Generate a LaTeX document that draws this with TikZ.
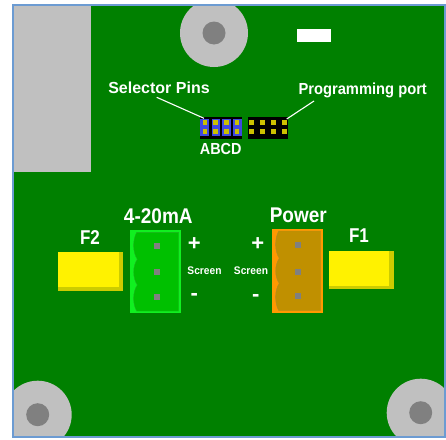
\documentclass[tikz,border=0pt]{standalone}
\usepackage{fontspec}
\setmainfont{Liberation Sans}
\usepackage{xcolor}
\definecolor{Board}{RGB}{0,128,0}
\definecolor{Pale}{RGB}{192,192,192}
\definecolor{Hole}{RGB}{128,128,128}
\definecolor{Frame}{RGB}{108,155,210}
\definecolor{Blue}{RGB}{64,72,224}
\definecolor{Pin}{RGB}{204,192,0}
\definecolor{Olive}{RGB}{204,204,0}
\definecolor{Lime}{RGB}{16,240,32}
\definecolor{LimeDark}{RGB}{0,192,0}
\definecolor{Orange}{RGB}{255,153,0}
\definecolor{OrangeDark}{RGB}{192,144,0}
\tikzset{
	lbl/.style={text=white, inner sep=0pt, font=\bfseries\fontsize{16}{18}\selectfont},
	biglbl/.style={lbl, font=\bfseries\fontsize{19}{21}\selectfont, yscale=1.12},
	signlbl/.style={lbl, font=\bfseries\fontsize{22}{24}\selectfont},
	fuselbl/.style={lbl, font=\bfseries\fontsize{20}{22}\selectfont, xscale=0.85},
	smalllbl/.style={lbl, font=\bfseries\fontsize{11}{13}\selectfont, xscale=0.93},
	leader/.style={draw=white, line width=1.1pt},
	limebody/.style={fill=LimeDark, draw=Hole!25!LimeDark, line width=0.4pt},
	orangebody/.style={fill=OrangeDark, draw=Hole!35!OrangeDark, line width=0.4pt},
}

\begin{document}
\begin{tikzpicture}[x=1pt, y=-1pt]
	\useasboundingbox (0,0) rectangle (446,439);
	\begin{scope}
	\clip (13,5) rectangle (445,437);
	\fill[Board] (13,5) rectangle (445,437);
	\fill[Pale] (13,5) rectangle (90.5,172);
	\fill[Pale] (214,33) circle (34);
	\fill[Hole] (214,33) circle (11.5);
	\fill[Pale] (37.7,414.7) circle (34);
	\fill[Hole] (37.7,414.7) circle (11.5);
	\fill[Pale] (420.7,412.7) circle (34);
	\fill[Hole] (420.7,412.7) circle (11.5);
	\end{scope}
	\fill[white] (297,29.3) rectangle (331.3,42.3);

	% selector header
	\fill[black] (200,116.7) rectangle (242,138.5);
	\fill[Blue] (200.3,119) rectangle (209.3,135.7);
	\fill[Blue] (211.7,119) rectangle (220,135.7);
	\fill[Blue] (222.3,119) rectangle (230.7,135.7);
	\fill[Blue] (233,119) rectangle (241.7,135.7);
	\fill[Pin] (202.7,120) rectangle (207.3,124.6);
	\fill[Pin] (213.4,120) rectangle (218,124.6);
	\fill[Pin] (224,120) rectangle (228.6,124.6);
	\fill[Pin] (234.7,120) rectangle (239.3,124.6);
	\fill[Pin] (202.7,129.4) rectangle (207.3,134);
	\fill[Pin] (213.4,129.4) rectangle (218,134);
	\fill[Pin] (224,129.4) rectangle (228.6,134);
	\fill[Pin] (234.7,129.4) rectangle (239.3,134);

	% programming header
	\fill[black] (248,116.7) rectangle (288,138.5);
	\fill[Pin] (249.4,120) rectangle (254,124.6);
	\fill[Pin] (260.4,120) rectangle (265,124.6);
	\fill[Pin] (271,120) rectangle (275.6,124.6);
	\fill[Pin] (282,120) rectangle (286.6,124.6);
	\fill[Pin] (249.4,129.4) rectangle (254,134);
	\fill[Pin] (260.4,129.4) rectangle (265,134);
	\fill[Pin] (271,129.4) rectangle (275.6,134);
	\fill[Pin] (282,129.4) rectangle (286.6,134);

	% fuses
	\fill[Olive] (58.3,252.3) rectangle (123.3,291);
	\fill[yellow] (58.3,252.3) rectangle (118.7,287.3);
	\fill[Olive] (329.3,250.7) rectangle (394,289.3);
	\fill[yellow] (329.3,250.7) rectangle (389.3,285.7);

	% 4-20mA connector
	\fill[Lime] (130.3,230) rectangle (181,313.3);
	\path[limebody] (136.7,232.3) .. controls (132.5,240) and (132.5,252) .. (137.3,259.3)
		.. controls (132.5,266) and (132.5,278) .. (137.3,285)
		.. controls (132.5,292) and (132.5,304) .. (136.7,311) -- (178.7,311) -- (178.7,232.3) -- cycle;
	\fill[Hole] (153.7,243) rectangle (159.7,249);
	\fill[Hole] (153.7,269.3) rectangle (159.7,275.3);
	\fill[Hole] (153.7,293.7) rectangle (159.7,299.7);

	% power connector
	\fill[Orange] (272,228.7) rectangle (323,312.7);
	\path[orangebody] (278.7,231) .. controls (274.5,239) and (274.5,251) .. (279.3,258.3)
		.. controls (274.5,265) and (274.5,277) .. (279.3,283.3)
		.. controls (274.5,290) and (274.5,303) .. (278.7,310.5) -- (320.7,310.5) -- (320.7,231) -- cycle;
	\fill[Hole] (295.3,242) rectangle (301.3,248);
	\fill[Hole] (295.3,268.7) rectangle (301.3,274.7);
	\fill[Hole] (295.3,293) rectangle (301.3,299);

	\node[lbl] (selector) at (159,87.3) {Selector Pins};
	\node[lbl, xscale=0.92] (program) at (362.7,90) {Programming port};
	\node[lbl, xscale=0.9] (abcd) at (220.7,149.3) {ABCD};
	\node[biglbl] (loop) at (158.3,216) {4-20mA};
	\node[biglbl] (power) at (298.3,215) {Power};
	\node[fuselbl] (ftwo) at (90,237.3) {F2};
	\node[fuselbl] (fone) at (359,236) {F1};
	\node[signlbl] (plusl) at (194.3,244.3) {+};
	\node[signlbl] (plusr) at (257.7,244.3) {+};
	\node[signlbl] (minusl) at (194.3,296.7) {-};
	\node[signlbl] (minusr) at (255.7,297.7) {-};
	\node[smalllbl] (screenl) at (204.5,271) {Screen};
	\node[smalllbl] (screenr) at (251,271) {Screen};

	\coordinate (selstart) at (156.7,97.3);
	\coordinate (selend) at (204,118.3);
	\coordinate (progstart) at (314,101);
	\coordinate (progend) at (286.7,119);
	\draw[leader] (selstart) -- (selend);
	\draw[leader] (progstart) -- (progend);

	\draw[Frame, line width=1.7pt] (13,5) rectangle (445,437);
\end{tikzpicture}
\end{document}
